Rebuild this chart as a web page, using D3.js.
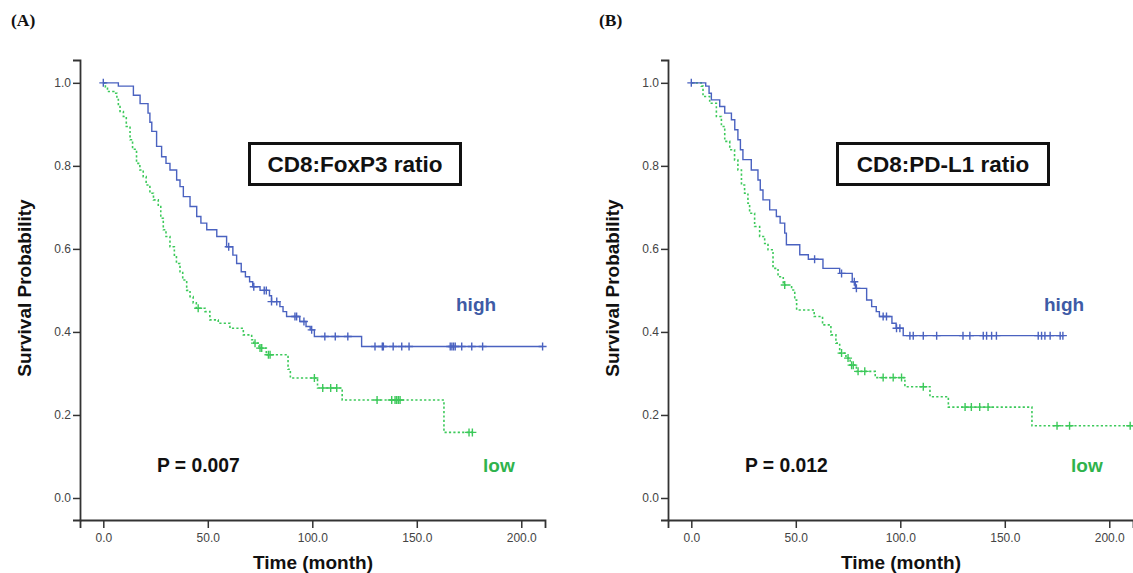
<!DOCTYPE html>
<html><head><meta charset="utf-8">
<script src="https://cdn.jsdelivr.net/npm/d3@7"></script>
<style>body{margin:0;background:#fff}svg{display:block}</style>
</head><body>
<svg id="c" width="1133" height="573"></svg>
<script>
// ---- data: Kaplan-Meier steps [time (month), survival after drop] ----
const tickX = [0, 50, 100, 150, 200];
const tickY = [0, 0.2, 0.4, 0.6, 0.8, 1.0];

const aHighSteps = [[0,1],[7.2,0.992],[14.4,0.970],[17.6,0.95],[21.4,0.927],[22.3,0.905],[23.2,0.883],[25.5,0.847],[27.9,0.822],[30,0.806],[31.9,0.79],[35.1,0.766],[36.7,0.75],[38.3,0.726],[41.5,0.702],[44.7,0.678],[46.7,0.662],[49.5,0.646],[54.3,0.630],[59,0.605],[62,0.585],[63.8,0.565],[66,0.545],[68,0.533],[70,0.521],[71.5,0.509],[75,0.50],[79.5,0.487],[80.5,0.473],[84.5,0.461],[86,0.449],[87.7,0.437],[94,0.425],[97,0.413],[99,0.405],[101,0.389],[123.6,0.365]];
const aHighEnd = 210.2;
const aHighCens = [0,60,72,77,78,80.5,83,91.7,92.5,96,99.7,106,111,117,130,133.5,134,138.7,142.8,146.3,166,166.8,167.6,168.4,171.5,176.3,181.5,210.2];

const aLowSteps = [[0,1],[1,0.99],[2,0.979],[5,0.975],[6.5,0.96],[7.2,0.943],[8,0.931],[9.6,0.919],[11,0.895],[12.8,0.863],[14,0.84],[15.9,0.806],[17.5,0.79],[19.1,0.774],[20.5,0.754],[22.3,0.734],[24,0.718],[26.3,0.702],[27.5,0.674],[28.7,0.646],[30,0.63],[31.9,0.605],[34,0.585],[35,0.565],[36.7,0.545],[38,0.525],[39.9,0.50],[41.5,0.485],[43,0.47],[44.5,0.457],[48.7,0.449],[51,0.429],[55,0.421],[60.6,0.409],[67,0.393],[71,0.381],[72,0.373],[74.5,0.361],[78,0.345],[88.4,0.31],[89.5,0.289],[102.5,0.265],[114.3,0.236],[163,0.158]];
const aLowEnd = 177.7;
const aLowCens = [45.4,72.6,75,75.8,79,79.8,101,105,108.8,111.7,131,138,139.6,140.4,141.2,142,175,176.6];

const bHighSteps = [[0,1],[6.9,0.992],[8.5,0.975],[9.6,0.959],[13.6,0.943],[16,0.927],[19.2,0.911],[20.8,0.887],[22.3,0.863],[23.5,0.839],[24.7,0.815],[28.7,0.79],[31.9,0.766],[33,0.742],[34.3,0.718],[37.5,0.694],[40.7,0.678],[42.5,0.662],[44.7,0.638],[45.5,0.61],[51.9,0.586],[56,0.575],[63,0.553],[71,0.541],[77,0.521],[78.5,0.505],[83.9,0.477],[86.3,0.461],[88.5,0.449],[90,0.437],[96,0.421],[98,0.409],[101.4,0.391]];
const bHighEnd = 178;
const bHighCens = [0,59,71.9,78,79,91.8,93.4,98.2,99.8,104.6,106.2,111,117.4,130,133.3,139.7,141.3,143.7,146,166,167.6,169.2,171.7,176.5,177.8];

const bLowSteps = [[0,1],[4.8,0.992],[5.6,0.967],[8.8,0.951],[12,0.919],[14.4,0.895],[16,0.859],[18.4,0.839],[20.7,0.814],[22.3,0.79],[24,0.754],[25.5,0.734],[27.1,0.71],[27.9,0.686],[30.3,0.654],[32.7,0.63],[35.1,0.613],[36.7,0.598],[39.1,0.553],[41.5,0.533],[44,0.513],[48,0.501],[49.5,0.477],[50.4,0.453],[58.8,0.437],[62.8,0.417],[66.8,0.393],[69.2,0.373],[71,0.349],[74,0.337],[76,0.32],[79,0.305],[88,0.29],[102.2,0.268],[114.2,0.244],[123,0.219],[163,0.174]];
const bLowEnd = 212;
const bLowCens = [44.7,71.9,75,76.7,77.5,79.8,83,91.8,96.6,100.6,111,131,134,138,142,175,181,210];

const panels = [
  {label:"(A)", title:"CD8:FoxP3 ratio", p:"P = 0.007", hi:aHighSteps, hiEnd:aHighEnd, hiC:aHighCens, lo:aLowSteps, loEnd:aLowEnd, loC:aLowCens},
  {label:"(B)", title:"CD8:PD-L1 ratio", p:"P = 0.012", hi:bHighSteps, hiEnd:bHighEnd, hiC:bHighCens, lo:bLowSteps, loEnd:bLowEnd, loC:bLowCens}
];

// ---- drawing ----
const svg = d3.select("#c");
const BLUE = "#4a62c0", GREEN = "#3cc95a";
const font = "'Liberation Sans', Arial, sans-serif";

const x = d3.scaleLinear().domain([-11.15, 211.35]).range([0, 465]);
const y = d3.scaleLinear().domain([-0.053, 1.055]).range([460, 0]);

function survAt(steps, t){ let s = 1; for (const d of steps){ if (d[0] <= t) s = d[1]; } return s; }

panels.forEach((P, i) => {
  const ox = 80 + i*588, oy = 60;
  const g = svg.append("g").attr("transform", `translate(${ox},${oy})`);

  const ax = g.append("g").attr("transform", "translate(0,460)")
    .call(d3.axisBottom(x).tickValues(tickX).tickFormat(d3.format(".1f")).tickSizeOuter(0).tickSize(8).tickPadding(5));
  const ay = g.append("g")
    .call(d3.axisLeft(y).tickValues(tickY).tickFormat(d3.format(".1f")).tickSizeOuter(0).tickSize(7).tickPadding(2));
  [ax, ay].forEach(a => {
    a.select(".domain").attr("stroke", "#333").attr("stroke-width", 1.8);
    a.selectAll(".tick line").attr("stroke", "#333").attr("stroke-width", 1.5);
    a.selectAll("text").attr("fill", "#444").style("font-family", font).style("font-size", "12px");
  });

  const line = d3.line().curve(d3.curveStepAfter).x(d => x(d[0])).y(d => y(d[1]));
  const full = (steps, end) => steps.concat([[end, steps[steps.length-1][1]]]);

  g.append("path").datum(full(P.lo, P.loEnd)).attr("d", line)
    .attr("fill", "none").attr("stroke", GREEN).attr("stroke-width", 1.6).attr("stroke-dasharray", "2.2,2.2");
  g.append("path").datum(full(P.hi, P.hiEnd)).attr("d", line)
    .attr("fill", "none").attr("stroke", BLUE).attr("stroke-width", 1.4);

  const cross = (sel, data, steps, col) => {
    sel.selectAll(null).data(data).enter().append("path")
      .attr("d", t => { const cx = x(t), cy = y(survAt(steps, t)); return `M${cx-4},${cy}H${cx+4}M${cx},${cy-4}V${cy+4}`; })
      .attr("stroke", col).attr("stroke-width", 1.4).attr("fill", "none");
  };
  cross(g, P.loC, P.lo, GREEN);
  cross(g, P.hiC, P.hi, BLUE);

  g.append("rect").attr("x", 169.5).attr("y", 83.5).attr("width", 211).attr("height", 41)
    .attr("fill", "#fff").attr("stroke", "#111").attr("stroke-width", 3);
  g.append("text").attr("x", 275).attr("y", 111.5).attr("text-anchor", "middle")
    .style("font-family", font).style("font-weight", "bold").style("font-size", "22.5px").attr("fill", "#111").text(P.title);

  g.append("text").attr("x", 376).attr("y", 251).style("font-family", font).style("font-weight", "bold")
    .style("font-size", "19px").attr("fill", "#3e5ba6").text("high");
  g.append("text").attr("x", 403).attr("y", 412).style("font-family", font).style("font-weight", "bold")
    .style("font-size", "19px").attr("fill", "#2fb34c").text("low");
  g.append("text").attr("x", 77).attr("y", 412).style("font-family", font).style("font-weight", "bold")
    .style("font-size", "19.3px").attr("fill", "#111").text(P.p);

  g.append("text").attr("transform", "translate(-49,228) rotate(-90)").attr("text-anchor", "middle")
    .style("font-family", font).style("font-weight", "bold").style("font-size", "19px").attr("fill", "#111").text("Survival Probability");
  g.append("text").attr("x", 233).attr("y", 509).attr("text-anchor", "middle")
    .style("font-family", font).style("font-weight", "bold").style("font-size", "19px").attr("fill", "#111").text("Time (month)");

  svg.append("text").attr("x", 11 + i*588).attr("y", 26)
    .style("font-family", "'Liberation Serif', 'Times New Roman', serif").style("font-weight", "bold")
    .style("font-size", "17.5px").attr("fill", "#111").text(P.label);
});
</script>
</body></html>
